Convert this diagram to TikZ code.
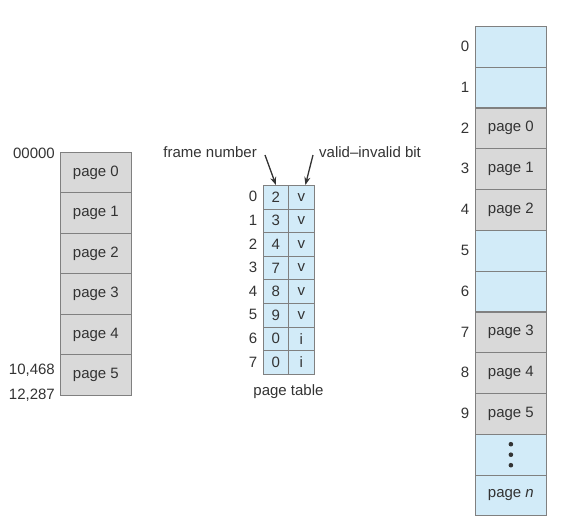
\documentclass[tikz,border=0pt]{standalone}
\usepackage{fontspec}
\setmainfont{Liberation Sans}
\usetikzlibrary{arrows.meta}
\definecolor{cellblue}{HTML}{D2EBF8}
\definecolor{cellgray}{HTML}{D9D9D9}
\definecolor{edgegray}{HTML}{808080}
\definecolor{txt}{HTML}{333333}
\begin{document}
\begin{tikzpicture}[x=1pt,y=-1pt,
  cell/.style={draw=edgegray, line width=0.8pt, inner sep=0pt, text=txt,
    font=\fontsize{15}{17}\selectfont, anchor=north west},
  pagecell/.style={cell, minimum width=71pt, minimum height=40.6pt},
  ptcell/.style={cell, minimum height=23.6pt},
  lbl/.style={text=txt, font=\fontsize{15}{17}\selectfont, inner sep=0pt},
  ptr/.style={draw=txt, line width=1.3pt, -{Stealth[length=8pt,width=6pt]}}]
\useasboundingbox (0,0) rectangle (574,525);

% logical memory
\foreach \i in {0,...,5}
  \node[pagecell, fill=cellgray] (L\i) at (60,{151.7+40.55*\i}) {page \i};
\node[lbl, anchor=east] (a0) at (55,153) {00000};
\node[lbl, anchor=east] (a1) at (55,370) {10,468};
\node[lbl, anchor=east] (a2) at (55,395) {12,287};

% page table
\foreach \i/\f/\b in {0/2/v,1/3/v,2/4/v,3/7/v,4/8/v,5/9/v,6/0/i,7/0/i} {
  \node[ptcell, fill=cellblue, minimum width=25pt] (F\i) at (263,{185+23.6*\i}) {\f};
  \node[ptcell, fill=cellblue, minimum width=26pt] (B\i) at (288,{185+23.6*\i}) {\b};
  \node[lbl] (R\i) at (253,{196.8+23.6*\i}) {\i};
}
\node[lbl] (ptl) at (288.5,392) {page table};
\node[lbl, anchor=east] (fn) at (257,152) {frame number};
\node[lbl, anchor=west] (vb) at (319,152) {valid--invalid bit};
\coordinate (fns) at (265,155);
\coordinate (vbs) at (313,155);
\draw[ptr] (fns) -- (F0.north);
\draw[ptr] (vbs) -- ([xshift=4pt]B0.north);

% physical memory
\foreach \i/\t/\c in {0//cellblue,1//cellblue,2/page 0/cellgray,3/page 1/cellgray,
    4/page 2/cellgray,5//cellblue,6//cellblue,7/page 3/cellgray,8/page 4/cellgray,
    9/page 5/cellgray,10//cellblue,11/page \textit{n}/cellblue}
  \node[pagecell, fill=\c] (P\i) at (475,{26+40.8*\i}) {\t};
\foreach \i in {0,...,9}
  \node[lbl] (N\i) at (465,{46.4+40.8*\i}) {\i};
\foreach \k in {0,1,2}
  \fill[txt] ([yshift={-10.5pt+10.5pt*\k}]P10.center) circle (2.3pt);
\end{tikzpicture}
\end{document}
